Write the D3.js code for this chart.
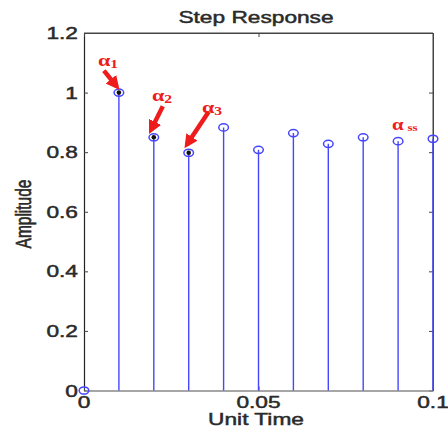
<!DOCTYPE html>
<html>
<head>
<meta charset="utf-8">
<script src="https://cdn.jsdelivr.net/npm/d3@7/dist/d3.min.js"></script>
<style>
  html, body { margin: 0; padding: 0; background: #fff; }
  svg { display: block; font-family: "Liberation Sans", Arial, sans-serif; }
</style>
</head>
<body>
<svg id="chart" width="448" height="432"></svg>
<script>
// Discrete step response samples
const times = [0, 0.01, 0.02, 0.03, 0.04, 0.05, 0.06, 0.07, 0.08, 0.09, 0.1];
const amplitudes = [0, 1.0, 0.85, 0.798, 0.883, 0.808, 0.864, 0.828, 0.85, 0.837, 0.845];
// Samples highlighted with a dark centre dot
const highlighted = [1, 2, 3];
const yTicks = [0, 0.2, 0.4, 0.6, 0.8, 1, 1.2];
const yTickLabels = ["0", "0.2", "0.4", "0.6", "0.8", "1", "1.2"];
const xTicks = [0, 0.05, 0.1];
const xTickLabels = ["0", "0.05", "0.1"];
// Annotation labels: main symbol, subscript, sample index they point to
const annotations = [
  { base: "\u03b1", sub: "1", idx: 1 },
  { base: "\u03b1", sub: "2", idx: 2 },
  { base: "\u03b1", sub: "3", idx: 3 }
];
const ssLabel = { base: "\u03b1", sub: "ss" };

const svg = d3.select("#chart");
const m = { left: 84, right: 433, top: 33, bottom: 390.5 };

const x = d3.scaleLinear().domain([0, 0.1]).range([m.left, m.right]);
const y = d3.scaleLinear().domain([0, 1.2]).range([m.bottom, m.top]);

const blue = "#4646ff";
const red = "#ee1c1c";
const ink = "#2a2a2a";
const stretch = 1.42;   // wide lettering

// Text helper: horizontally widened label anchored at (px, py)
function label(px, py, str, opts = {}) {
  return svg.append("text")
    .attr("transform", `translate(${px},${py}) scale(${stretch},1)`)
    .attr("text-anchor", opts.anchor || "middle")
    .attr("font-size", opts.size || 16)
    .attr("fill", ink)
    .attr("stroke", ink).attr("stroke-width", 0.45)
    .text(str);
}

// Frame
svg.append("line").attr("x1", m.left).attr("x2", m.right).attr("y1", m.top).attr("y2", m.top)
  .attr("stroke", "#444").attr("stroke-width", 1);
svg.append("line").attr("x1", m.right).attr("x2", m.right).attr("y1", m.top).attr("y2", m.bottom)
  .attr("stroke", "#444").attr("stroke-width", 1);

// Left axis, ticks pointing inward
const yAxis = d3.axisLeft(y).tickValues(yTicks).tickSizeInner(-4).tickSizeOuter(0).tickFormat("");
const gy = svg.append("g").attr("transform", `translate(${m.left},0)`).call(yAxis);
gy.select(".domain").attr("stroke", "#222").attr("stroke-width", 1.2);
gy.selectAll(".tick line").attr("stroke", "#444");
yTicks.forEach((v, i) => label(m.left - 6, y(v) + 6, yTickLabels[i], { anchor: "end" }));

// Right side ticks
const yRight = d3.axisRight(y).tickValues(yTicks).tickSizeInner(-4).tickSizeOuter(0).tickFormat("");
const gyr = svg.append("g").attr("transform", `translate(${m.right},0)`).call(yRight);
gyr.select(".domain").attr("stroke", "#444");
gyr.selectAll(".tick line").attr("stroke", "#444");

// Bottom axis
const xAxis = d3.axisBottom(x).tickValues(xTicks).tickSizeInner(-4).tickSizeOuter(0).tickFormat("");
const gx = svg.append("g").attr("transform", `translate(0,${m.bottom})`).call(xAxis);
gx.select(".domain").attr("stroke", "#888").attr("stroke-width", 1.3);
gx.selectAll(".tick line").attr("stroke", "#444");
xTicks.forEach((v, i) => label(x(v), 408, xTickLabels[i]));

// Top ticks
const xTop = d3.axisTop(x).tickValues(xTicks).tickSizeInner(-4).tickSizeOuter(0).tickFormat("");
const gxt = svg.append("g").attr("transform", `translate(0,${m.top})`).call(xTop);
gxt.select(".domain").attr("stroke", "#444");
gxt.selectAll(".tick line").attr("stroke", "#444");

// Stems
svg.append("g").selectAll("line").data(times).join("line")
  .attr("x1", d => x(d)).attr("x2", d => x(d))
  .attr("y1", y(0)).attr("y2", (d, i) => y(amplitudes[i]))
  .attr("stroke", blue).attr("stroke-width", 1.4);

// Markers
svg.append("g").selectAll("ellipse").data(times).join("ellipse")
  .attr("cx", d => x(d)).attr("cy", (d, i) => y(amplitudes[i]))
  .attr("rx", 4.8).attr("ry", 3.6)
  .attr("fill", "none").attr("stroke", blue).attr("stroke-width", 1.5);

svg.append("g").selectAll("circle").data(highlighted).join("circle")
  .attr("cx", i => x(times[i])).attr("cy", i => y(amplitudes[i]))
  .attr("r", 2.3).attr("fill", "#111");

// Titles
label(256, 23, "Step Response");
label(256, 425, "Unit Time");
svg.append("text").attr("transform", "translate(31,214) rotate(-90) scale(1,1.42)")
  .attr("text-anchor", "middle").attr("font-size", 15.5)
  .attr("fill", ink).attr("stroke", ink).attr("stroke-width", 0.45).text("Amplitude");

// Red annotation arrows
const defs = svg.append("defs");
defs.append("marker").attr("id", "head").attr("viewBox", "0 0 10 10")
  .attr("refX", 7).attr("refY", 5).attr("markerWidth", 3).attr("markerHeight", 3)
  .attr("orient", "auto").attr("markerUnits", "strokeWidth")
  .append("path").attr("d", "M0,0 L10,5 L0,10 Z").attr("fill", red);

// Label and arrow offsets relative to the pointed sample
const arrowGeom = [
  { lx: 108, ly: 66, tail: [-15, -22], head: [-2, -6] },
  { lx: 162, ly: 101, tail: [9, -31], head: [-3, -7] },
  { lx: 212, ly: 113, tail: [20, -41], head: [-2, -8] }
];

annotations.forEach((a, k) => {
  const g = arrowGeom[k];
  const px = x(times[a.idx]), py = y(amplitudes[a.idx]);
  svg.append("line")
    .attr("x1", px + g.tail[0]).attr("y1", py + g.tail[1])
    .attr("x2", px + g.head[0]).attr("y2", py + g.head[1])
    .attr("stroke", red).attr("stroke-width", 4.5).attr("marker-end", "url(#head)");
  const t = svg.append("text")
    .attr("transform", `translate(${g.lx},${g.ly}) scale(1.3,1)`)
    .attr("text-anchor", "middle")
    .attr("fill", red).attr("font-family", "Liberation Serif, Times New Roman, serif")
    .attr("font-weight", "bold");
  t.append("tspan").attr("font-size", 17).text(a.base);
  t.append("tspan").attr("font-size", 12).attr("dy", 2).text(a.sub);
});

const ts = svg.append("text")
  .attr("transform", "translate(392,130) scale(1.3,1)")
  .attr("fill", red).attr("font-family", "Liberation Serif, Times New Roman, serif")
  .attr("font-weight", "bold");
ts.append("tspan").attr("font-size", 16).text(ssLabel.base);
ts.append("tspan").attr("font-size", 10).attr("dx", 3).attr("dy", 1).text(ssLabel.sub);
</script>
</body>
</html>
